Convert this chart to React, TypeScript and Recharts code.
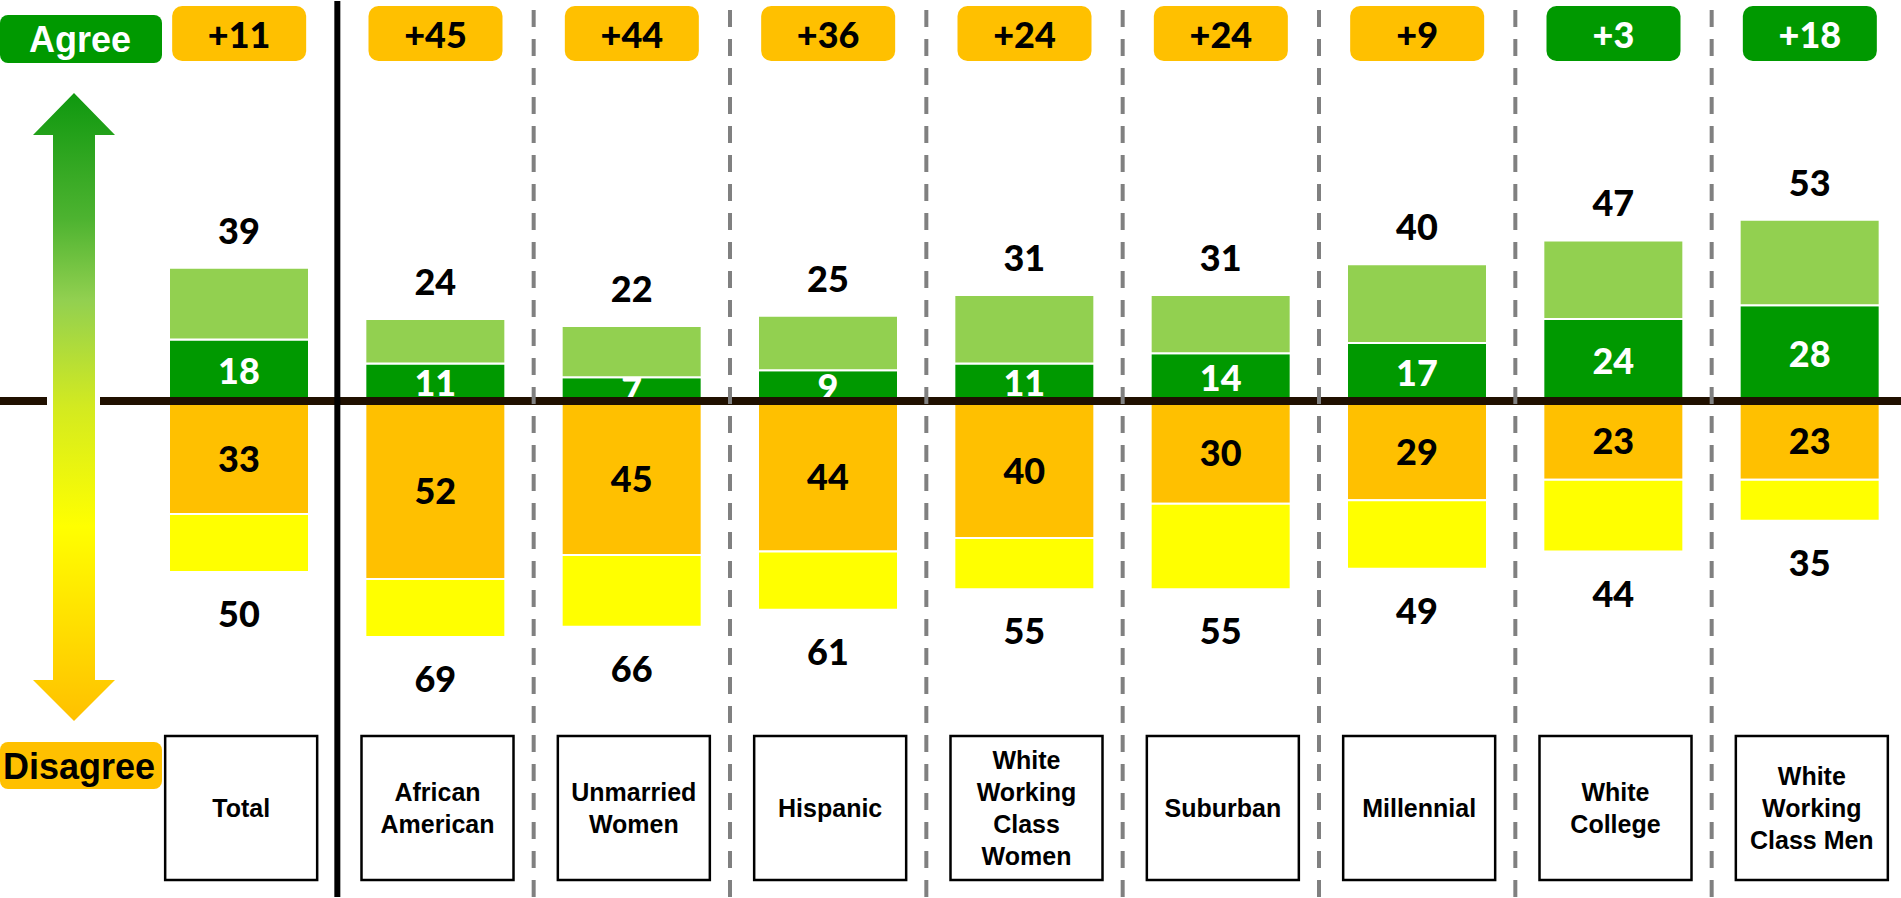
import { BarChart, Bar, XAxis, YAxis, ReferenceLine, LabelList } from "recharts";

const CATEGORIES = [
  "Total",
  "African\nAmerican",
  "Unmarried\nWomen",
  "Hispanic",
  "White\nWorking\nClass\nWomen",
  "Suburban",
  "Millennial",
  "White\nCollege",
  "White\nWorking\nClass Men",
];
const AGREE_TOTAL = [39, 24, 22, 25, 31, 31, 40, 47, 53];
const AGREE_STRONG = [18, 11, 7, 9, 11, 14, 17, 24, 28];
const DISAGREE_TOTAL = [50, 69, 66, 61, 55, 55, 49, 44, 35];
const DISAGREE_STRONG = [33, 52, 45, 44, 40, 30, 29, 23, 23];
const NET_LABELS = ["+11", "+45", "+44", "+36", "+24", "+24", "+9", "+3", "+18"];

const DARK_GREEN = "#009900";
const LIGHT_GREEN = "#92D050";
const ORANGE = "#FFC000";
const YELLOW = "#FFFF00";
const LINE = "#201000";

const NUM_FONT = "Lato, 'Open Sans', sans-serif";
const TXT_FONT = "'Liberation Sans', Arial, sans-serif";

const data = CATEGORIES.map((name, i) => ({
  name,
  strongAgree: AGREE_STRONG[i],
  softAgree: AGREE_TOTAL[i] - AGREE_STRONG[i],
  strongDisagree: -DISAGREE_STRONG[i],
  softDisagree: -(DISAGREE_TOTAL[i] - DISAGREE_STRONG[i]),
  agreeTotal: AGREE_TOTAL[i],
  disagreeTotal: DISAGREE_TOTAL[i],
  strongDisagreeLabel: DISAGREE_STRONG[i],
}));

// label drawn in the middle of a segment, or past the outer end of the stack
function makeLabel(where: "center" | "above" | "below", color: string) {
  return (props: any) => {
    const vb = props.viewBox ?? props;
    const x = Number(vb.x);
    const y = Number(vb.y);
    const w = Number(vb.width);
    const h = Number(vb.height);
    const top = Math.min(y, y + h);
    const bottom = Math.max(y, y + h);
    const cy = where === "center" ? (top + bottom) / 2 : where === "above" ? top - 38 : bottom + 41;
    return (
      <text
        x={x + w / 2}
        y={cy}
        textAnchor="middle"
        dominantBaseline="central"
        fill={color}
        fontFamily={NUM_FONT}
        fontWeight={900}
        fontSize={36}
      >
        {props.value}
      </text>
    );
  };
}

function BadgeTick(props: any) {
  const i = props.index ?? props.payload?.index ?? 0;
  const agreeLeads = AGREE_TOTAL[i] > DISAGREE_TOTAL[i];
  return (
    <g>
      <rect x={props.x - 67} y={6} width={134} height={55} rx={10} fill={agreeLeads ? DARK_GREEN : ORANGE} />
      <text
        x={props.x}
        y={34}
        textAnchor="middle"
        dominantBaseline="central"
        fill={agreeLeads ? "#fff" : "#000"}
        fontFamily={NUM_FONT}
        fontWeight={900}
        fontSize={36}
      >
        {NET_LABELS[i]}
      </text>
    </g>
  );
}

function CategoryTick(props: any) {
  const lines = String(props.payload.value).split("\n");
  const lh = 32;
  const cy = 808;
  return (
    <g>
      <rect x={props.x - 74} y={736} width={152} height={144} fill="#fff" stroke="#000" strokeWidth={2.5} />
      {lines.map((l, k) => (
        <text
          key={k}
          x={props.x + 2}
          y={cy + (k - (lines.length - 1) / 2) * lh}
          textAnchor="middle"
          dominantBaseline="central"
          fill="#000"
          fontFamily={TXT_FONT}
          fontWeight={700}
          fontSize={25}
        >
          {l}
        </text>
      ))}
    </g>
  );
}

function Legend() {
  return (
    <svg width={170} height={898} style={{ position: "absolute", left: 0, top: 0 }}>
      <defs>
        <linearGradient id="arrowGrad" gradientUnits="userSpaceOnUse" x1="0" y1="93" x2="0" y2="721">
          <stop offset="0" stopColor="#0f980f" />
          <stop offset="0.2" stopColor="#4db330" />
          <stop offset="0.33" stopColor="#92d050" />
          <stop offset="0.5" stopColor="#d3ea20" />
          <stop offset="0.69" stopColor="#ffff00" />
          <stop offset="1" stopColor="#ffc000" />
        </linearGradient>
      </defs>
      <rect x={0} y={15} width={162} height={48} rx={8} fill={DARK_GREEN} />
      <text x={80} y={39} textAnchor="middle" dominantBaseline="central" fill="#fff" fontFamily={TXT_FONT} fontWeight={700} fontSize={36}>
        Agree
      </text>
      <polygon
        points="74,93 115,135 95,135 95,680 115,680 74,721 33,680 53,680 53,135 33,135"
        fill="url(#arrowGrad)"
      />
      <rect x={0} y={397} width={47} height={8} fill={LINE} />
      <rect x={100} y={397} width={70} height={8} fill={LINE} />
      <rect x={0} y={742} width={162} height={47} rx={8} fill={ORANGE} />
      <text x={79} y={766} textAnchor="middle" dominantBaseline="central" fill="#000" fontFamily={TXT_FONT} fontWeight={700} fontSize={36}>
        Disagree
      </text>
    </svg>
  );
}

export default function App() {
  return (
    <div style={{ position: "absolute", left: 0, top: 0, width: 1901, height: 898, overflow: "hidden", background: "#fff" }}>
      <BarChart
        width={1920}
        height={898}
        data={data}
        stackOffset="sign"
        barSize={140}
        margin={{ top: 0, right: 12, bottom: 0, left: 141 }}
      >
        <XAxis
          xAxisId="cat"
          dataKey="name"
          height={1}
          interval={0}
          axisLine={false}
          tickLine={false}
          tick={<CategoryTick />}
        />
        <XAxis
          xAxisId="top"
          orientation="top"
          dataKey="name"
          height={1}
          interval={0}
          axisLine={false}
          tickLine={false}
          tick={<BadgeTick />}
        />
        <YAxis hide type="number" domain={[-145, 117]} allowDataOverflow />
        <Bar xAxisId="cat" dataKey="strongAgree" stackId="s" fill={DARK_GREEN} stroke="#fff" strokeWidth={2} isAnimationActive={false}>
          <LabelList dataKey="strongAgree" content={makeLabel("center", "#fff")} />
        </Bar>
        <Bar xAxisId="cat" dataKey="softAgree" stackId="s" fill={LIGHT_GREEN} stroke="#fff" strokeWidth={2} isAnimationActive={false}>
          <LabelList dataKey="agreeTotal" content={makeLabel("above", "#000")} />
        </Bar>
        <Bar xAxisId="cat" dataKey="strongDisagree" stackId="s" fill={ORANGE} stroke="#fff" strokeWidth={2} isAnimationActive={false}>
          <LabelList dataKey="strongDisagreeLabel" content={makeLabel("center", "#000")} />
        </Bar>
        <Bar xAxisId="cat" dataKey="softDisagree" stackId="s" fill={YELLOW} stroke="#fff" strokeWidth={2} isAnimationActive={false}>
          <LabelList dataKey="disagreeTotal" content={makeLabel("below", "#000")} />
        </Bar>
        <ReferenceLine xAxisId="cat" y={0} stroke={LINE} strokeWidth={8} zIndex={2500} />
        {CATEGORIES.slice(1).map((c, k) => (
          <ReferenceLine
            key={c}
            xAxisId="cat"
            x={c}
            position="start"
            stroke={k === 0 ? "#000" : "#808080"}
            strokeWidth={k === 0 ? 6 : 4}
            strokeDasharray={k === 0 ? undefined : "17 12"}
            zIndex={2600}
          />
        ))}
      </BarChart>
      <Legend />
    </div>
  );
}
